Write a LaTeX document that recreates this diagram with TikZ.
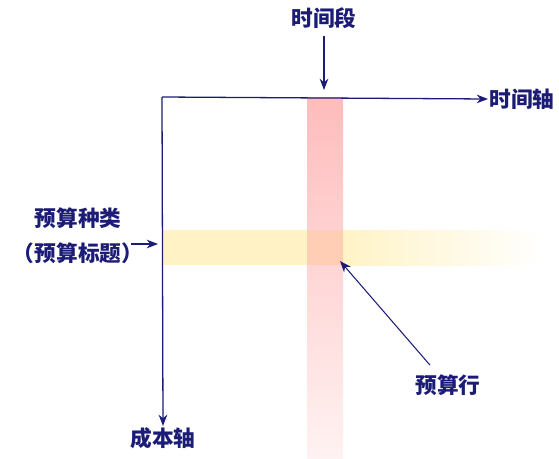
\documentclass[tikz,border=0pt]{standalone}
\usepackage{fontspec}
\newfontfamily\cjk{Noto Sans CJK SC}
\usepackage{xcolor}
\usetikzlibrary{positioning, arrows.meta}
\definecolor{inkblue}{RGB}{28,28,118}
\definecolor{bandred}{RGB}{255,188,188}
\definecolor{bandredlight}{RGB}{255,242,242}
\definecolor{bandyellow}{RGB}{255,243,198}
\definecolor{bandmix}{RGB}{255,206,180}

\begin{document}
\begin{tikzpicture}[
    x=0.3mm, y=-0.3mm,
    % label and arrow styles
    tag/.style={
        text=inkblue,
        font=\cjk\bfseries\fontsize{18.5}{30}\selectfont,
        inner sep=1pt,
        align=center
    },
    axis/.style={
        draw=inkblue,
        line width=1.1pt,
        -{Stealth[length=3.4mm, width=2.6mm]}
    },
    pointer/.style={axis, line width=0.9pt}
]
\useasboundingbox (0,0) rectangle (559,459);

% Bands (drawn first, under the axes)
\fill[top color=bandred, bottom color=bandredlight] (307,97) rectangle (343,459);
\fill[left color=bandyellow, right color=white] (343,230) rectangle (545,265);
\fill[bandyellow] (163,230) rectangle (307,265);
\fill[bandmix] (307,230) rectangle (343,265);

% Axes
\coordinate (origin) at (162,97);
\node[tag, anchor=west] (timeaxis) at (488,99) {时间轴};
\node[tag] (costaxis) at (163,438) {成本轴};
\draw[axis] (origin) -- (timeaxis.west);
\draw[axis] (origin) -- (costaxis.north);

% Time segment
\node[tag] (segment) at (324,18) {时间段};
\coordinate (segtip) at (324,90);
\draw[pointer] (segment.south) ++(0,6) -- (segtip);

% Budget category
\node[tag] (kind) at (78,236) {预算种类\\（预算标题）};
\coordinate (kindtail) at (131,244);
\coordinate (kindtip) at (158,244);
\draw[pointer] (kindtail) -- (kindtip);

% Budget row
\node[tag] (row) at (448,385) {预算行};
\coordinate (rowtip) at (340,261);
\draw[pointer] (row.north) ++(-18,-8) -- (rowtip);
\end{tikzpicture}
\end{document}
